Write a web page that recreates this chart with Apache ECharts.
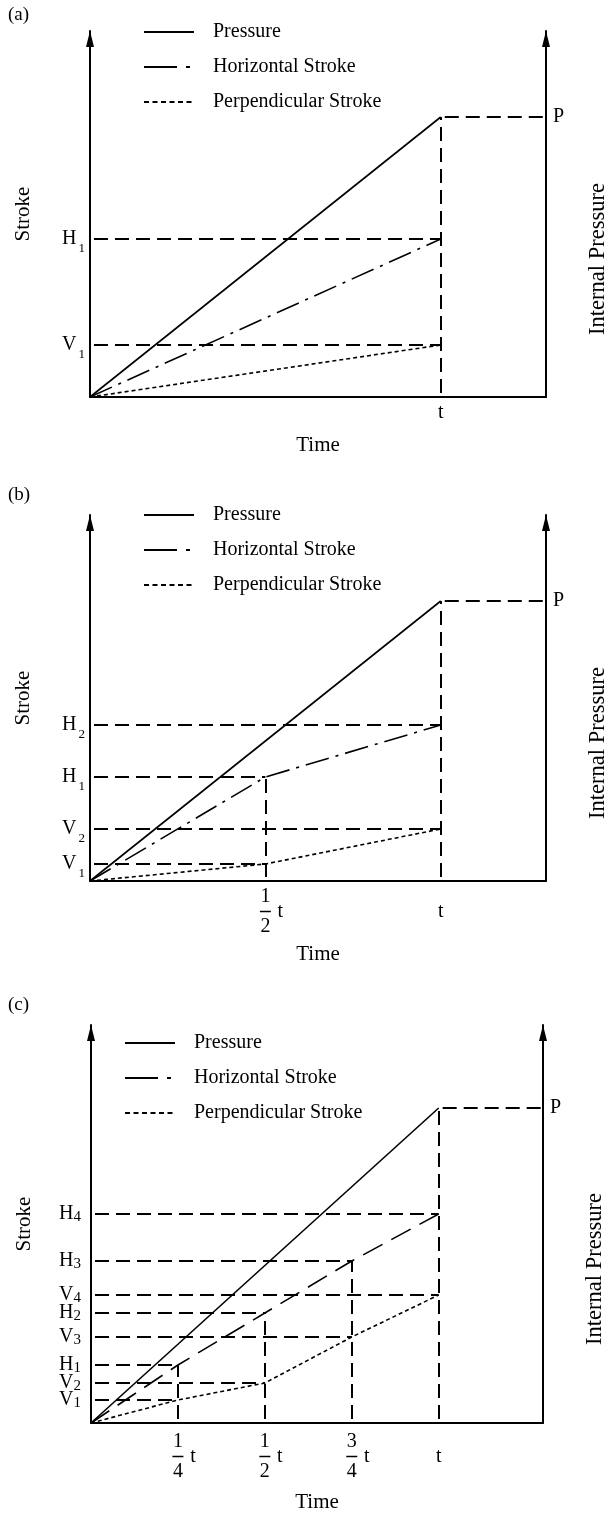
<!DOCTYPE html>
<html>
<head>
<meta charset="utf-8">
<script src="https://cdn.jsdelivr.net/npm/echarts@6/dist/echarts.min.js"></script>
<style>
    html, body { margin: 0; padding: 0; background: #fff; }
    #strokeChart { width: 605px; height: 1513px; }
</style>
</head>
<body>
<div id="strokeChart"></div>
<script>
    // time is in units of t, stroke / pressure in arbitrary units
    var xMax = 1.3;
    var pressureTimes = [0, 1];

    // panel (a)
    var aTimes = [0, 1];
    var aHorizontal = [0, 158];
    var aPerpendicular = [0, 52];
    var aPressure = [0, 280];
    var aStrokeMax = 366;
    var aHNames = ['H1'];
    var aVNames = ['V1'];
    var aTimeTicks = ['t'];

    // panel (b)
    var bTimes = [0, 0.5, 1];
    var bHorizontal = [0, 104, 156];
    var bPerpendicular = [0, 17, 52];
    var bPressure = [0, 280];
    var bStrokeMax = 366;
    var bHNames = ['H1', 'H2'];
    var bVNames = ['V1', 'V2'];
    var bTimeTicks = ['1/2', 't'];

    // panel (c)
    var cTimes = [0, 0.25, 0.5, 0.75, 1];
    var cHorizontal = [0, 58, 110, 162, 209];
    var cPerpendicular = [0, 23, 40, 86, 128];
    var cPressure = [0, 315];
    var cStrokeMax = 398;
    var cHNames = ['H1', 'H2', 'H3', 'H4'];
    var cVNames = ['V1', 'V2', 'V3', 'V4'];
    var cTimeTicks = ['1/4', '1/2', '3/4', 't'];

    var FONT = 'Liberation Serif';

    var panels = [
        {tag: '(a)', tagTop: 5, top: 31, left: 90, width: 456, height: 366,
            times: aTimes, hor: aHorizontal, per: aPerpendicular, pressure: aPressure, yMax: aStrokeMax,
            hNames: aHNames, vNames: aVNames, ticks: aTimeTicks,
            legendLeft: 143, legendTop: 22, horDash: [24, 7, 3, 7], bigSub: false,
            yMargin: 5, xMargin: 6, stacked: false, timeGap: 37},
        {tag: '(b)', tagTop: 485, top: 515, left: 90, width: 456, height: 366,
            times: bTimes, hor: bHorizontal, per: bPerpendicular, pressure: bPressure, yMax: bStrokeMax,
            hNames: bHNames, vNames: bVNames, ticks: bTimeTicks,
            legendLeft: 143, legendTop: 505, horDash: [24, 7, 3, 7], bigSub: false,
            yMargin: 5, xMargin: 8, stacked: true, timeGap: 62},
        {tag: '(c)', tagTop: 995, top: 1025, left: 91, width: 452, height: 398,
            times: cTimes, hor: cHorizontal, per: cPerpendicular, pressure: cPressure, yMax: cStrokeMax,
            hNames: cHNames, vNames: cVNames, ticks: cTimeTicks,
            legendLeft: 124, legendTop: 1033, horDash: [22, 10], bigSub: true,
            yMargin: 10, xMargin: 11, stacked: true, timeGap: 68}
    ];

    var textBase = {fontFamily: FONT, color: '#000', fontWeight: 'normal'};

    var timeRich = {
        num: {fontFamily: FONT, fontSize: 20, lineHeight: 15, width: 11, color: '#000'},
        pad: {width: 15, lineHeight: 15},
        bar: {width: 11, height: 1.5, lineHeight: 15, backgroundColor: '#000'},
        gap: {width: 4, lineHeight: 15},
        tt: {fontFamily: FONT, fontSize: 20, lineHeight: 15, width: 11, color: '#000'},
        blank: {width: 11, lineHeight: 15}
    };

    var strokeRich = {
        b: {fontFamily: FONT, fontSize: 20, color: '#000'},
        s: {fontFamily: FONT, fontSize: 13, color: '#000', padding: [20, 0, 0, 2]},
        sb: {fontFamily: FONT, fontSize: 15, color: '#000', padding: [7, 0, 0, 0]}
    };

    function timeLabel(name, stacked) {
        if (name === 't') {
            return stacked ? '{blank| }\n{tt|t}\n{blank| }' : 't';
        }
        var f = name.split('/');
        return '{pad| }{num|' + f[0] + '}{pad| }\n' +
            '{pad| }{bar| }{gap| }{tt|t}\n' +
            '{pad| }{num|' + f[1] + '}{pad| }';
    }

    function strokeLabel(name, big) {
        return '{b|' + name.charAt(0) + '}{' + (big ? 'sb' : 's') + '|' + name.slice(1) + '}';
    }

    function zip(xs, ys) {
        var out = [];
        for (var i = 0; i < xs.length; i++) out.push([xs[i], ys[i]]);
        return out;
    }

    function guideSegments(p) {
        var segs = [];
        var last = p.times.length - 1;
        for (var k = 1; k <= last; k++) {
            var t = p.times[k];
            segs.push({coords: [[0, p.hor[k]], [t, p.hor[k]]]});
            segs.push({coords: [[0, p.per[k]], [t, p.per[k]]]});
            if (k < last) segs.push({coords: [[t, 0], [t, p.hor[k]]]});
        }
        var top = p.pressure[p.pressure.length - 1];
        segs.push({coords: [[1, 0], [1, top]]});
        segs.push({coords: [[1, top], [xMax, top]]});
        return segs;
    }

    var option = {
        animation: false,
        backgroundColor: '#fff',
        title: [], legend: [], grid: [], xAxis: [], yAxis: [], series: []
    };

    panels.forEach(function (p, i) {
        var tickValues = p.times.slice(1);
        var strokeValues = p.hor.slice(1).concat(p.per.slice(1));
        var strokeNames = p.hNames.concat(p.vNames);
        var topPressure = p.pressure[p.pressure.length - 1];
        var axisLineStyle = {color: '#000', width: 2};
        var hidden = {opacity: 0};

        option.title.push({
            text: p.tag, left: 8, top: p.tagTop, padding: 0,
            textStyle: Object.assign({fontSize: 19, lineHeight: 20}, textBase)
        });

        option.grid.push({left: p.left, top: p.top, width: p.width, height: p.height, outerBoundsMode: 'none'});

        option.legend.push({
            left: p.legendLeft, top: p.legendTop, orient: 'vertical', padding: 0,
            itemGap: 15, itemWidth: 50, itemHeight: 14, selectedMode: false,
            textStyle: Object.assign({fontSize: 20, lineHeight: 20, padding: [0, 0, 0, 14]}, textBase),
            data: [
                {name: 'Pressure', itemStyle: hidden, lineStyle: {type: 'solid', width: 2, color: '#000'}},
                {name: 'Horizontal Stroke', itemStyle: hidden, lineStyle: {type: [33, 9, 4, 9], width: 2, color: '#000'}},
                {name: 'Perpendicular Stroke', itemStyle: hidden, lineStyle: {type: [5, 3.5], width: 2, color: '#000'}}
            ]
        });

        option.xAxis.push({
            gridIndex: i, type: 'value', min: 0, max: xMax,
            axisLine: {show: true, onZero: false, lineStyle: axisLineStyle},
            axisTick: {show: false}, splitLine: {show: false},
            axisLabel: {
                customValues: tickValues, margin: p.xMargin,
                fontFamily: FONT, fontSize: 20, lineHeight: 20, color: '#000', rich: timeRich,
                formatter: function (v) {
                    var idx = tickValues.indexOf(v);
                    return idx < 0 ? '' : timeLabel(p.ticks[idx], p.stacked);
                }
            },
            name: 'Time', nameLocation: 'middle', nameGap: p.timeGap, nameMoveOverlap: false,
            nameTextStyle: Object.assign({fontSize: 21, lineHeight: 22}, textBase)
        });

        option.yAxis.push({
            gridIndex: i, type: 'value', position: 'left', min: 0, max: p.yMax,
            axisLine: {show: true, onZero: false, symbol: ['none', 'triangle'], symbolSize: [8, 16],
                symbolOffset: [0, -8], lineStyle: axisLineStyle},
            axisTick: {show: false}, splitLine: {show: false},
            axisLabel: {
                customValues: strokeValues, margin: p.yMargin, rich: strokeRich,
                formatter: function (v) {
                    var idx = strokeValues.indexOf(v);
                    return idx < 0 ? '' : strokeLabel(strokeNames[idx], p.bigSub);
                }
            },
            name: 'Stroke', nameLocation: 'middle', nameGap: 56, nameRotate: 90, nameMoveOverlap: false,
            nameTextStyle: Object.assign({fontSize: 21}, textBase)
        });

        option.yAxis.push({
            gridIndex: i, type: 'value', position: 'right', min: 0, max: p.yMax,
            axisLine: {show: true, onZero: false, symbol: ['none', 'triangle'], symbolSize: [8, 16],
                symbolOffset: [0, -8], lineStyle: axisLineStyle},
            axisTick: {show: false}, splitLine: {show: false},
            axisLabel: {
                customValues: [topPressure], margin: 7,
                fontFamily: FONT, fontSize: 20, color: '#000',
                formatter: function () { return 'P'; }
            },
            name: 'Internal Pressure', nameLocation: 'middle', nameGap: 41, nameRotate: 90, nameMoveOverlap: false,
            nameTextStyle: Object.assign({fontSize: 22.5, padding: [0, 90, 0, 0]}, textBase)
        });

        option.series.push({
            type: 'lines', coordinateSystem: 'cartesian2d', xAxisIndex: i, yAxisIndex: 2 * i,
            silent: true, z: 1,
            lineStyle: {color: '#000', width: 2, type: [14, 7], dashOffset: 17, opacity: 1, curveness: 0},
            data: guideSegments(p)
        });
        option.series.push({
            type: 'line', name: 'Pressure', xAxisIndex: i, yAxisIndex: 2 * i,
            data: zip(pressureTimes, p.pressure), symbol: 'none', silent: true, z: 3,
            lineStyle: {color: '#000', width: 1.6, type: 'solid'}
        });
        option.series.push({
            type: 'line', name: 'Horizontal Stroke', xAxisIndex: i, yAxisIndex: 2 * i,
            data: zip(p.times, p.hor), symbol: 'none', silent: true, z: 3,
            lineStyle: {color: '#000', width: 1.6, type: p.horDash}
        });
        option.series.push({
            type: 'line', name: 'Perpendicular Stroke', xAxisIndex: i, yAxisIndex: 2 * i,
            data: zip(p.times, p.per), symbol: 'none', silent: true, z: 3,
            lineStyle: {color: '#000', width: 1.6, type: [4, 3]}
        });
    });

    var chart = echarts.init(document.getElementById('strokeChart'));
    chart.setOption(option);
    window.addEventListener('resize', chart.resize);
</script>
</body>
</html>
